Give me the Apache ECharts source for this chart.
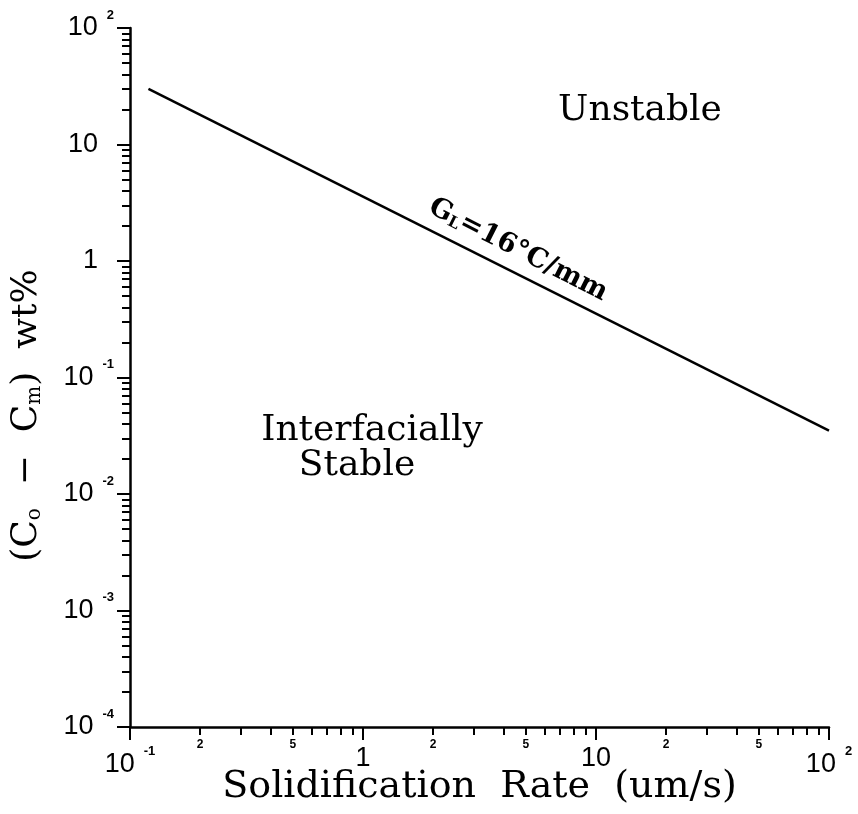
<!DOCTYPE html>
<html>
<head>
<meta charset="utf-8">
<style>
  html, body { margin: 0; padding: 0; background: #fff; }
  #main { width: 858px; height: 814px; }
</style>
<script src="https://cdn.jsdelivr.net/npm/echarts@6/dist/echarts.min.js"></script>
</head>
<body>
<div id="main"></div>
<script>
// stability limit line, log-log: solidification rate (um/s) vs (Co - Cm) wt%
var rate = [0.12, 100];
var concDiff = [30, 0.035];
// axis decades (powers of ten) and minor tick mantissas
var xDecades = [-1, 0, 1, 2];
var yDecades = [-4, -3, -2, -1, 0, 1, 2];
var minorMantissa = [2, 3, 4, 5, 6, 7, 8, 9];
var xMinorLabelMantissa = [2, 5];

function lg(v) { return Math.log10(v); }

// log10 positions of the minor ticks between decades
function minorsOf(decades, mant) {
  var out = [];
  for (var i = 0; i < decades.length - 1; i++) {
    for (var j = 0; j < mant.length; j++) out.push(decades[i] + lg(mant[j]));
  }
  return out;
}

function powLabel(v) {
  v = Math.round(v);
  if (v === 0) return '{p|1}';
  if (v === 1) return '{p|10}';
  return '{b|10}{e|' + (v < 0 ? '-' + (-v) : v) + '}';
}

var serif = 'DejaVu Serif';
var sans = 'Liberation Sans';

var labelRich = function (padRight) {
  return {
    b: { fontFamily: sans, fontSize: 27, color: '#000' },
    p: { fontFamily: sans, fontSize: 27, color: '#000', padding: [0, padRight, 0, 0] },
    e: { fontFamily: sans, fontSize: 13, fontWeight: 'bold', color: '#000', padding: [0, 0, 26, 9] }
  };
};

var axisLineStyle = { show: true, onZero: false, lineStyle: { color: '#000', width: 2.5 } };

var chart = echarts.init(document.getElementById('main'));

var option = {
  animation: false,
  backgroundColor: '#fff',
  grid: { left: 130, right: 29, top: 28, bottom: 87, containLabel: false, outerBoundsMode: 'none' },
  xAxis: [
    {
      type: 'value', min: -1, max: 2, interval: 1, position: 'bottom',
      axisLine: axisLineStyle,
      splitLine: { show: false },
      axisTick: { show: true, length: 13, lineStyle: { color: '#000', width: 2 }, customValues: xDecades },
      axisLabel: { customValues: xDecades, formatter: powLabel, margin: 18, rich: labelRich(0) },
      name: 'Solidification  Rate  (um/s)',
      nameLocation: 'middle',
      nameGap: 41,
      nameMoveOverlap: false,
      nameTextStyle: { fontFamily: serif, fontSize: 38, color: '#000' }
    },
    {
      type: 'value', min: -1, max: 2, interval: 1, position: 'bottom',
      axisLine: { show: false, onZero: false },
      splitLine: { show: false },
      axisTick: { show: true, length: 8, lineStyle: { color: '#000', width: 2 }, customValues: minorsOf(xDecades, minorMantissa) },
      axisLabel: {
        customValues: minorsOf(xDecades, xMinorLabelMantissa),
        formatter: function (v) { return String(Math.round(Math.pow(10, v - Math.floor(v + 1e-9)))); },
        margin: 12, fontSize: 12, fontWeight: 'bold', color: '#000', fontFamily: sans
      }
    }
  ],
  yAxis: [
    {
      type: 'value', min: -4, max: 2, interval: 1, position: 'left',
      axisLine: axisLineStyle,
      splitLine: { show: false },
      axisTick: { show: true, length: 13, lineStyle: { color: '#000', width: 2 }, customValues: yDecades },
      axisLabel: { customValues: yDecades, formatter: powLabel, margin: 16, rich: labelRich(16) },
      name: '{n|(C}{s|o}{n|  \u2212  C}{s|m}{n|)  wt%}',
      nameLocation: 'middle',
      nameRotate: 90,
      nameGap: 85,
      nameTextStyle: {
        padding: [0, 76, 0, 0],
        rich: {
          n: { fontFamily: serif, fontSize: 36, color: '#000' },
          s: { fontFamily: serif, fontSize: 20, color: '#000', verticalAlign: 'bottom' }
        }
      }
    },
    {
      type: 'value', min: -4, max: 2, interval: 1, position: 'left',
      axisLine: { show: false, onZero: false },
      splitLine: { show: false },
      axisTick: { show: true, length: 8, lineStyle: { color: '#000', width: 2 }, customValues: minorsOf(yDecades, minorMantissa) },
      axisLabel: { show: false }
    }
  ],
  series: [
    {
      type: 'line',
      xAxisIndex: 0,
      yAxisIndex: 0,
      data: rate.map(function (r, i) { return [lg(r), lg(concDiff[i])]; }),
      symbol: 'none',
      lineStyle: { color: '#000', width: 2.5 },
      silent: true
    }
  ],
  graphic: [
    {
      type: 'text', x: 640, y: 111,
      style: { text: 'Unstable', fontFamily: serif, fontSize: 36, fill: '#000', align: 'center', verticalAlign: 'middle' }
    },
    {
      type: 'text', x: 372, y: 431,
      style: { text: 'Interfacially', fontFamily: serif, fontSize: 36, fill: '#000', align: 'center', verticalAlign: 'middle' }
    },
    {
      type: 'text', x: 357, y: 466,
      style: { text: 'Stable', fontFamily: serif, fontSize: 36, fill: '#000', align: 'center', verticalAlign: 'middle' }
    },
    {
      type: 'text', x: 518, y: 250, rotation: -0.47,
      style: {
        text: '{g|G}{l|L}{g|=16\u00b0C/mm}',
        align: 'center', verticalAlign: 'middle',
        rich: {
          g: { fontFamily: serif, fontSize: 27, fontWeight: 'bold', fill: '#000' },
          l: { fontFamily: serif, fontSize: 16, fontWeight: 'bold', fill: '#000', verticalAlign: 'bottom' }
        }
      }
    }
  ]
};

chart.setOption(option);
</script>
</body>
</html>
